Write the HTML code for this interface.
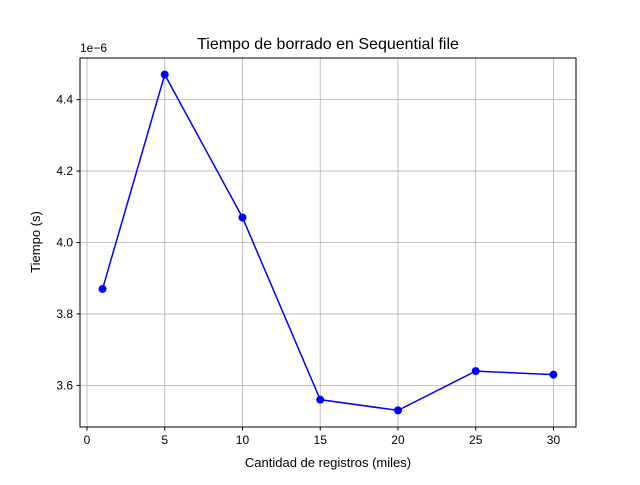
<!DOCTYPE html>
<html><head><meta charset="utf-8"><style>
body{margin:0;background:#fff;}
svg{font-family:"Liberation Sans","DejaVu Sans",sans-serif;}
</style></head><body>
<svg id="chart" width="640" height="480" viewBox="0 0 640 480">
<rect width="640" height="480" fill="#fff"/>
<g id="grid"></g>
<g id="series"></g>
<rect x="80" y="58" width="496" height="369" fill="none" stroke="#000" stroke-width="1"/>
<g id="ticks" font-size="12" fill="#000"></g>
<text x="328" y="49" text-anchor="middle" font-size="16">Tiempo de borrado en Sequential file</text>
<text x="328" y="467" text-anchor="middle" font-size="13">Cantidad de registros (miles)</text>
<text transform="translate(40,242) rotate(-90)" text-anchor="middle" font-size="13">Tiempo (s)</text>
<text x="80" y="52" font-size="12">1e−6</text>
</svg>
<script>
const categories=[1,5,10,15,20,25,30];
const values=[3.87,4.47,4.07,3.56,3.53,3.64,3.63];
const xTicks=[0,5,10,15,20,25,30];
const yTicks=[3.6,3.8,4.0,4.2,4.4];
const L=80,R=576,T=58,B=427;
const xmin=-0.45,xmax=31.45,ymin=3.4835,ymax=4.5165;
const sx=v=>L+(v-xmin)/(xmax-xmin)*(R-L);
const sy=v=>B-(v-ymin)/(ymax-ymin)*(B-T);
const NS="http://www.w3.org/2000/svg";
const grid=document.getElementById('grid'),ticks=document.getElementById('ticks'),series=document.getElementById('series');
function mk(tag,attrs,parent){const e=document.createElementNS(NS,tag);for(const k in attrs)e.setAttribute(k,attrs[k]);parent.appendChild(e);return e;}
xTicks.forEach(t=>{const x=sx(t);
const g=mk('line',{x1:x,x2:x,y1:T,y2:B,stroke:'#b0b0b0','stroke-width':0.8},grid);


const tk=mk('line',{x1:x,x2:x,y1:B,y2:B+3.5,stroke:'#000'},ticks);


const tx=mk('text',{x:x,y:B+17,'text-anchor':'middle'},ticks);tx.textContent=t;

});
yTicks.forEach(t=>{const y=sy(t);
const g=mk('line',{x1:L,x2:R,y1:y,y2:y,stroke:'#b0b0b0','stroke-width':0.8},grid);


const tk=mk('line',{x1:L-3.5,x2:L,y1:y,y2:y,stroke:'#000'},ticks);


const tx=mk('text',{x:L-7,y:y+4,'text-anchor':'end'},ticks);tx.textContent=t.toFixed(1);

});
const pts=categories.map((c,i)=>sx(c)+','+sy(values[i])).join(' ');
const pl=mk('polyline',{points:pts,fill:'none',stroke:'#0000ff','stroke-width':1.5},series);


categories.forEach((c,i)=>{const p=mk('circle',{cx:sx(c),cy:sy(values[i]),r:4,fill:'#0000ff'},series);

});
</script>
</body></html>
